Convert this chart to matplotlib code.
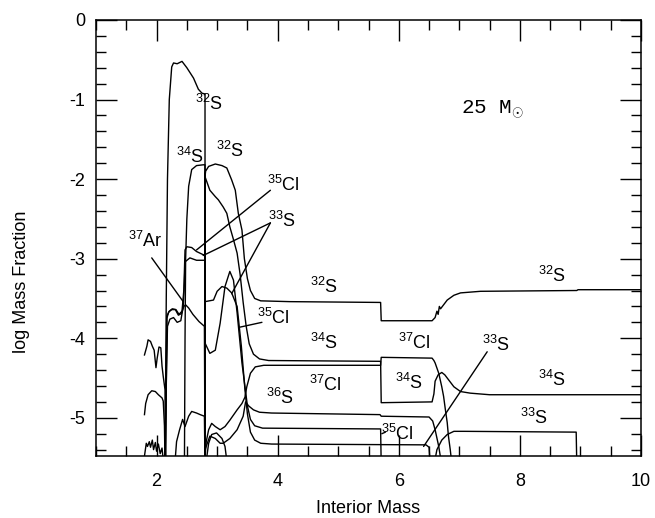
import numpy as np
import matplotlib
matplotlib.use("Agg")
import matplotlib.pyplot as plt

plt.rcParams['font.family'] = ['Liberation Sans', 'DejaVu Sans']
plt.rcParams['mathtext.fontset'] = 'custom'
plt.rcParams['mathtext.rm'] = 'Liberation Sans'
plt.rcParams['mathtext.it'] = 'Liberation Sans:italic'
plt.rcParams['mathtext.bf'] = 'Liberation Sans:bold'

# --- abundance profiles (interior mass, log mass fraction) ---
s32_m = [2.14, 2.16, 2.18, 2.21, 2.25, 2.28, 2.34, 2.42, 2.50, 2.61, 2.69, 2.75, 2.80, 2.80, 2.80,
         2.81, 2.86, 2.97, 3.08, 3.16, 3.24, 3.30, 3.35, 3.41, 3.45, 3.50, 3.55, 3.62, 3.72, 4.20,
         5.70, 5.71, 6.55, 6.60, 6.63, 6.65, 6.67, 6.69, 6.80, 6.91, 7.02, 7.35, 8.94, 8.96, 10.0]
s32_x = [-5.6, -3.5, -2.0, -1.0, -0.59, -0.54, -0.55, -0.52, -0.60, -0.73, -0.87, -0.92, -0.93, -5.6, -1.97,
         -1.90, -1.84, -1.81, -1.83, -1.86, -2.01, -2.14, -2.43, -2.64, -3.00, -3.25, -3.40, -3.50, -3.53, -3.54,
         -3.55, -3.78, -3.78, -3.74, -3.66, -3.70, -3.60, -3.63, -3.52, -3.46, -3.43, -3.41, -3.40, -3.39, -3.39]

s34_m = [2.46, 2.47, 2.48, 2.50, 2.53, 2.58, 2.66, 2.77, 2.80, 2.80, 2.88, 2.97, 3.02, 3.10, 3.16, 3.21,
         3.27, 3.33, 3.38, 3.43, 3.48, 3.53, 3.60, 3.70, 3.85, 5.70, 5.71, 6.55, 6.58, 6.60, 6.65, 6.71,
         6.76, 6.80, 6.91, 7.02, 7.18, 7.50, 10.0]
s34_x = [-5.6, -4.0, -3.0, -2.5, -2.09, -1.88, -1.83, -1.82, -1.82, -1.97, -2.14, -2.22, -2.26, -2.35, -2.43, -2.60,
         -2.76, -2.93, -3.20, -3.55, -3.85, -4.07, -4.20, -4.26, -4.28, -4.29, -4.81, -4.80, -4.70, -4.54, -4.46, -4.43,
         -4.46, -4.50, -4.61, -4.67, -4.69, -4.71, -4.71]

cl35_m = [2.14, 2.16, 2.17, 2.21, 2.26, 2.32, 2.37, 2.42, 2.45, 2.47, 2.50, 2.58, 2.66, 2.77, 2.80, 2.80,
          2.88, 2.97, 3.05, 3.13, 3.21, 3.27, 3.33, 3.41, 3.46, 3.50, 3.55, 3.62, 3.75, 5.70, 5.71]
cl35_x = [-5.6, -4.4, -3.72, -3.66, -3.63, -3.64, -3.70, -3.66, -3.40, -2.89, -2.85, -2.86, -2.91, -2.95, -2.95, -4.06,
          -4.19, -4.15, -3.81, -3.35, -3.16, -3.27, -3.68, -4.31, -4.61, -4.85, -5.02, -5.10, -5.13, -5.14, -5.6]

s33_m = [2.14, 2.16, 2.18, 2.22, 2.28, 2.34, 2.40, 2.44, 2.46, 2.47, 2.55, 2.66, 2.80, 2.80, 2.94, 3.00,
         3.08, 3.16, 3.24, 3.33, 3.40, 3.46, 3.50, 3.55, 3.62, 3.72, 3.90, 6.45, 6.50, 6.52]
s33_x = [-5.6, -4.6, -3.85, -3.76, -3.74, -3.80, -3.78, -3.60, -3.30, -3.04, -2.99, -3.02, -3.02, -3.54, -3.52, -3.41,
         -3.35, -3.37, -3.43, -3.60, -4.10, -4.65, -4.95, -5.18, -5.28, -5.32, -5.33, -5.34, -5.37, -5.6]
s33_out_m = [6.58, 6.63, 6.71, 6.80, 6.91, 7.08, 8.93, 8.94]
s33_out_x = [-5.6, -5.40, -5.28, -5.21, -5.17, -5.17, -5.18, -5.6]

cl37_m = [2.79, 2.82, 2.86, 2.91, 2.97, 3.05, 3.13, 3.21, 3.33, 3.41, 3.46, 3.49, 3.55, 3.63, 3.77, 5.70,
          5.71, 6.55, 6.58, 6.60, 6.66, 6.71, 6.74, 6.77, 6.80, 6.82, 6.85, 6.88]
cl37_x = [-5.6, -5.30, -5.15, -5.07, -5.11, -5.15, -5.11, -5.03, -4.90, -4.82, -4.74, -4.61, -4.44, -4.36, -4.34, -4.34,
          -4.24, -4.25, -4.28, -4.31, -4.44, -4.61, -4.73, -4.90, -5.06, -5.23, -5.40, -5.6]

s36_m = [2.80, 2.88, 2.97, 3.05, 3.10, 3.21, 3.33, 3.43, 3.47, 3.52, 3.60, 3.70, 3.90, 5.69, 5.71, 6.50,
         6.56, 6.60, 6.66, 6.71]
s36_x = [-5.40, -5.23, -5.26, -5.32, -5.32, -5.26, -5.15, -4.98, -4.80, -4.85, -4.90, -4.93, -4.94, -4.96, -4.98, -4.99,
         -5.04, -5.15, -5.36, -5.6]

ar37_m = [2.15, 2.16, 2.17, 2.20, 2.25, 2.31, 2.36, 2.41, 2.45, 2.48, 2.53, 2.60, 2.70, 2.79, 2.80]
ar37_x = [-5.6, -4.6, -3.75, -3.67, -3.64, -3.64, -3.71, -3.69, -3.60, -3.58, -3.62, -3.70, -3.79, -3.85, -5.6]

low_m = [2.30, 2.33, 2.38, 2.43, 2.47, 2.53, 2.58, 2.66, 2.72, 2.79, 2.80]
low_x = [-5.6, -5.30, -5.15, -5.02, -5.11, -4.98, -4.92, -4.94, -4.96, -4.98, -5.6]

arch_m = [2.81, 2.86, 2.91, 2.99, 3.08, 3.13, 3.17]
arch_x = [-5.6, -5.32, -5.21, -5.19, -5.26, -5.36, -5.6]

# noisy inner-core profiles
core1_m = [1.80, 1.84, 1.86, 1.90, 1.93, 1.96, 1.99, 2.01, 2.04, 2.07, 2.09, 2.11, 2.14, 2.15]
core1_x = [-4.21, -4.10, -4.02, -4.04, -4.10, -4.15, -4.37, -4.25, -4.11, -4.12, -4.35, -4.48, -4.65, -5.6]
core2_m = [1.80, 1.82, 1.86, 1.92, 1.98, 2.03, 2.09, 2.11, 2.13, 2.14]
core2_x = [-4.96, -4.82, -4.71, -4.66, -4.67, -4.71, -4.75, -4.79, -5.1, -5.6]
core3_m = [1.80, 1.83, 1.85, 1.88, 1.90, 1.93, 1.95, 1.98, 2.00, 2.03, 2.06, 2.09, 2.12]
core3_x = [-5.48, -5.32, -5.36, -5.30, -5.37, -5.28, -5.40, -5.31, -5.42, -5.33, -5.45, -5.38, -5.6]

profiles = [(s32_m, s32_x), (s34_m, s34_x), (cl35_m, cl35_x), (s33_m, s33_x), (s33_out_m, s33_out_x),
            (cl37_m, cl37_x), (s36_m, s36_x), (ar37_m, ar37_x), (low_m, low_x), (arch_m, arch_x),
            (core1_m, core1_x), (core2_m, core2_x), (core3_m, core3_x)]

# labels: (text, mass, log X)
labels = [
    (r'$^{32}$S', 2.86, -1.05), (r'$^{34}$S', 2.55, -1.72), (r'$^{32}$S', 3.21, -1.65),
    (r'$^{35}$Cl', 4.09, -2.07), (r'$^{33}$S', 4.07, -2.53), (r'$^{37}$Ar', 1.81, -2.78),
    (r'$^{32}$S', 4.76, -3.35), (r'$^{35}$Cl', 3.93, -3.75), (r'$^{34}$S', 4.76, -4.06),
    (r'$^{37}$Cl', 4.79, -4.59), (r'$^{36}$S', 4.04, -4.75), (r'$^{37}$Cl', 6.25, -4.06),
    (r'$^{34}$S', 6.16, -4.56), (r'$^{35}$Cl', 5.98, -5.20), (r'$^{33}$S', 7.60, -4.08),
    (r'$^{32}$S', 8.53, -3.22), (r'$^{34}$S', 8.53, -4.52), (r'$^{33}$S', 8.23, -5.00),
]
# pointer lines: (from, to)
pointers = [
    ((1.92, -2.99), (2.44, -3.54)),
    ((3.88, -2.14), (2.66, -2.89)),
    ((3.88, -2.55), (2.77, -2.96)),
    ((3.88, -2.55), (3.24, -3.44)),
    ((3.74, -3.80), (3.38, -3.86)),
    ((7.46, -4.17), (6.41, -5.36)),
    ((5.78, -5.18), (5.72, -5.20)),
]

fig = plt.figure(figsize=(6.55, 5.18), dpi=100)
ax = fig.add_axes([0.1466, 0.1197, 0.8320, 0.8417])

for m, x in profiles:
    ax.plot(m, x, color='black', lw=1.0)

for txt, m, x in labels:
    ax.text(m, x, txt, fontsize=13, ha='center', va='center')

for (x0, y0), (x1, y1) in pointers:
    ax.annotate('', xy=(x1, y1), xytext=(x0, y0),
                arrowprops=dict(arrowstyle='-', lw=1.0, color='black', shrinkA=0, shrinkB=0))

ax.text(7.02, -1.13, r'25 M$_{\odot}$', fontsize=15, family='Liberation Mono',
        ha='left', va='center')

ax.set_xlim(1, 10)
ax.set_ylim(-5.48, 0)
ax.set_xticks([2, 4, 6, 8, 10])
ax.set_xticks(np.arange(1, 10.01, 0.5), minor=True)
ax.set_yticks([0, -1, -2, -3, -4, -5])
ax.set_yticks(np.arange(-5.4, 0.01, 0.2), minor=True)
ax.set_yticklabels(['0', '-1', '-2', '-3', '-4', '-5'])
ax.tick_params(which='both', direction='in', top=True, right=True, labelsize=13, width=1.0)
ax.tick_params(which='major', length=15)
ax.tick_params(which='minor', length=7.5)
ax.tick_params(axis='x', pad=12)
ax.tick_params(axis='y', pad=8)
for sp in ax.spines.values():
    sp.set_linewidth(1.1)

ax.set_xlabel('Interior Mass', fontsize=13)
ax.set_ylabel('log Mass Fraction', fontsize=13)
ax.xaxis.set_label_coords(0.5, -0.12)
ax.xaxis.label.set_va('center')
ax.yaxis.set_label_coords(-0.136, 0.40)
ax.yaxis.label.set_va('center')

plt.savefig('out.png', dpi=100)
